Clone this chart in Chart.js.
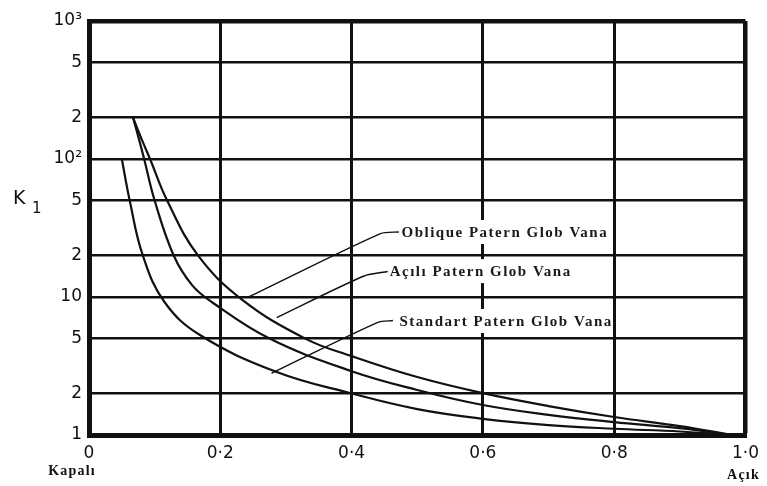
<!DOCTYPE html>
<html>
<head>
<meta charset="utf-8">
<script src="https://cdn.jsdelivr.net/npm/chart.js@4"></script>
<style>
  html, body { margin: 0; padding: 0; background: #fff; }
  #wrap { width: 767px; height: 486px; }
</style>
</head>
<body>
<div id="wrap"><canvas id="c" width="767" height="486"></canvas></div>
<script>
// ---- data ----
const xTicks = [0, 0.2, 0.4, 0.6, 0.8, 1.0];
const xTickLabels = ['0', '0·2', '0·4', '0·6', '0·8', '1·0'];
const yTicks = [1, 2, 5, 10, 20, 50, 100, 200, 500, 1000];
const yTickLabels = ['1', '2', '5', '10', '2', '5', '10²', '2', '5', '10³'];

const obliqueX = [0.067, 0.080, 0.093, 0.119, 0.166, 0.234, 0.331, 0.40, 0.50, 0.60, 0.70, 0.80, 0.90, 0.98];
const obliqueY = [200, 140, 100, 50, 20, 9.5, 4.95, 3.73, 2.63, 2.01, 1.62, 1.35, 1.16, 1.0];

const acikX = [0.067, 0.076, 0.084, 0.100, 0.129, 0.157, 0.187, 0.275, 0.40, 0.50, 0.60, 0.70, 0.80, 0.90, 0.98];
const acikY = [200, 140, 100, 50, 20, 12.2, 9.2, 5.0, 2.9, 2.12, 1.65, 1.4, 1.24, 1.12, 1.0];

const standartX = [0.050, 0.062, 0.082, 0.115, 0.169, 0.286, 0.40, 0.50, 0.60, 0.70, 0.80, 0.90, 0.98];
const standartY = [100, 50, 20, 9.2, 5.3, 2.86, 2.0, 1.54, 1.31, 1.18, 1.11, 1.06, 1.0];

const seriesNames = ['Oblique Patern Glob Vana', 'Açılı Patern Glob Vana', 'Standart Patern Glob Vana'];
// label anchor (left edge of text) in data coordinates
const labelAnchorX = [0.476, 0.458, 0.473];
const labelAnchorY = [29.6, 15.4, 6.7];
// leader lines in data coordinates
const leaderX = [[0.472, 0.444, 0.243], [0.455, 0.419, 0.286], [0.463, 0.440, 0.278]];
const leaderY = [[29.6, 28.8, 10.0], [15.3, 14.2, 7.1], [6.75, 6.55, 2.8]];

const yTitle = 'K';
const yTitleSub = '1';
const xEndLabels = ['Kapalı', 'Açık'];

// ---- helpers ----
const pts = (xs, ys) => xs.map((x, i) => ({ x: x, y: ys[i] }));

const curveStyle = {
  borderColor: '#111', borderWidth: 2.2, pointRadius: 0,
  tension: 0.4, fill: false
};
const leaderStyle = {
  borderColor: '#111', borderWidth: 1.4, pointRadius: 0, tension: 0.25, fill: false
};

const datasets = [
  Object.assign({ label: seriesNames[0], data: pts(obliqueX, obliqueY) }, curveStyle),
  Object.assign({ label: seriesNames[1], data: pts(acikX, acikY) }, curveStyle),
  Object.assign({ label: seriesNames[2], data: pts(standartX, standartY) }, curveStyle),
  Object.assign({ label: 'l0', data: pts(leaderX[0], leaderY[0]) }, leaderStyle),
  Object.assign({ label: 'l1', data: pts(leaderX[1], leaderY[1]) }, leaderStyle),
  Object.assign({ label: 'l2', data: pts(leaderX[2], leaderY[2]) }, leaderStyle)
];

const textPlugin = {
  id: 'texts',
  beforeDatasetsDraw(chart) {
    const ctx = chart.ctx;
    const xs = chart.scales.x, ys = chart.scales.y;
    ctx.save();
    ctx.font = 'bold 15px "Liberation Serif", "Times New Roman", serif';
    try { ctx.letterSpacing = '1.5px'; } catch (e) {}
    ctx.textBaseline = 'middle';
    ctx.textAlign = 'left';
    seriesNames.forEach((name, i) => {
      const px = xs.getPixelForValue(labelAnchorX[i]);
      const py = ys.getPixelForValue(labelAnchorY[i]);
      const w = ctx.measureText(name).width;
      ctx.fillStyle = '#fff';
      ctx.fillRect(px - 2, py - 12, w + 2, 24);
      ctx.fillStyle = '#1a1a1a';
      ctx.fillText(name, px, py + 1);
    });
    ctx.restore();
  },
  afterDraw(chart) {
    const ctx = chart.ctx;
    const xs = chart.scales.x;
    const area = chart.chartArea;
    ctx.save();
    ctx.fillStyle = '#111';
    // y title K with subscript 1
    ctx.font = '19px "DejaVu Sans", sans-serif';
    ctx.textBaseline = 'alphabetic';
    ctx.textAlign = 'left';
    ctx.fillText(yTitle, 13, 204);
    ctx.font = '15px "DejaVu Sans", sans-serif';
    ctx.fillText(yTitleSub, 32, 213);
    // Kapalı / Açık
    ctx.font = 'bold 14px "Liberation Serif", "Times New Roman", serif';
    try { ctx.letterSpacing = '1.2px'; } catch (e) {}
    ctx.textAlign = 'center';
    ctx.textBaseline = 'middle';
    ctx.fillText(xEndLabels[0], xs.getPixelForValue(xTicks[0]) - 17, area.bottom + 36);
    ctx.fillText(xEndLabels[1], xs.getPixelForValue(xTicks[xTicks.length - 1]) - 2, area.bottom + 40);
    ctx.restore();
  }
};

new Chart(document.getElementById('c'), {
  type: 'line',
  data: { datasets: datasets },
  options: {
    responsive: false,
    animation: false,
    layout: { padding: { left: 0, right: 20, top: 21, bottom: 0 } },
    plugins: { legend: { display: false }, tooltip: { enabled: false } },
    scales: {
      x: {
        type: 'linear', min: 0, max: 1,
        afterBuildTicks: s => { s.ticks = xTicks.map(v => ({ value: v })); },
        afterFit: s => { s.height = 51; },
        ticks: {
          callback: (v, i) => xTickLabels[i],
          font: { family: '"DejaVu Sans", sans-serif', size: 17 },
          color: '#111', padding: 8, maxRotation: 0, autoSkip: false
        },
        grid: { color: '#111', lineWidth: c => (c.index === xTicks.length - 1 ? 4.5 : 3), drawTicks: false },
        border: { color: '#111', width: 5 }
      },
      y: {
        type: 'logarithmic', min: 1, max: 1000,
        afterBuildTicks: s => { s.ticks = yTicks.map(v => ({ value: v })); },
        afterFit: s => { s.width = 89; },
        ticks: {
          callback: (v, i) => yTickLabels[i],
          font: { family: '"DejaVu Sans", sans-serif', size: 17 },
          color: '#111', padding: 7, autoSkip: false
        },
        grid: { color: '#111', lineWidth: c => (c.index === yTicks.length - 1 ? 4.5 : 2.5), drawTicks: false },
        border: { color: '#111', width: 5 }
      }
    }
  },
  plugins: [textPlugin]
});
</script>
</body>
</html>
